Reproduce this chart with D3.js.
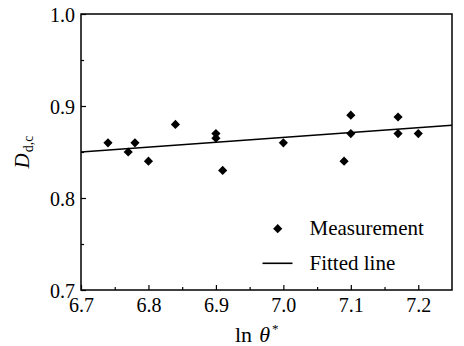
<!DOCTYPE html>
<html><head><meta charset="utf-8">
<script src="https://cdn.jsdelivr.net/npm/d3@7"></script>
<style>body{margin:0;background:#fff;} svg{display:block;}</style>
</head><body>
<svg id="c" width="464" height="346"></svg>
<script>
const measX = [6.74, 6.77, 6.78, 6.80, 6.84, 6.90, 6.90, 6.91, 7.00, 7.09, 7.10, 7.10, 7.17, 7.17, 7.20];
const measY = [0.860, 0.850, 0.860, 0.840, 0.880, 0.870, 0.865, 0.830, 0.860, 0.840, 0.890, 0.870, 0.888, 0.870, 0.870];
const fitX = [6.70, 7.25];
const fitY = [0.850, 0.879];
const xTicks = [6.7, 6.8, 6.9, 7.0, 7.1, 7.2];
const yTicks = [0.7, 0.8, 0.9, 1.0];
const legendLabels = ["Measurement", "Fitted line"];

const svg = d3.select("#c");
const L = 81, R = 452, T = 14, B = 290;
const x = d3.scaleLinear().domain([6.7, 7.25]).range([L, R]);
const y = d3.scaleLinear().domain([0.7, 1.0]).range([B, T]);
const font = "'Liberation Serif','Times New Roman',serif";

const xMinor = d3.range(6.75, 7.25, 0.1);
const yMinor = d3.range(0.75, 1.0, 0.1);

const gx = svg.append("g").attr("transform", `translate(0,${B})`)
  .call(d3.axisBottom(x).tickValues(xTicks).tickFormat(d3.format(".1f")).tickSizeInner(-5).tickSizeOuter(0).tickPadding(8));
gx.select(".domain").remove();
gx.selectAll("text").attr("font-family", font).attr("font-size", 20).attr("fill", "#000");
gx.selectAll("line").attr("stroke", "#000").attr("stroke-width", 1.2);
const gxm = svg.append("g").attr("transform", `translate(0,${B})`)
  .call(d3.axisBottom(x).tickValues(xMinor).tickFormat("").tickSizeInner(-3).tickSizeOuter(0));
gxm.select(".domain").remove();
gxm.selectAll("line").attr("stroke", "#000").attr("stroke-width", 1.2);

const gy = svg.append("g").attr("transform", `translate(${L},0)`)
  .call(d3.axisLeft(y).tickValues(yTicks).tickFormat(d3.format(".1f")).tickSizeInner(-5).tickSizeOuter(0).tickPadding(6));
gy.select(".domain").remove();
gy.selectAll("text").attr("font-family", font).attr("font-size", 20).attr("fill", "#000").attr("dy", "0.35em");
gy.selectAll("line").attr("stroke", "#000").attr("stroke-width", 1.2);
const gym = svg.append("g").attr("transform", `translate(${L},0)`)
  .call(d3.axisLeft(y).tickValues(yMinor).tickFormat("").tickSizeInner(-3).tickSizeOuter(0));
gym.select(".domain").remove();
gym.selectAll("line").attr("stroke", "#000").attr("stroke-width", 1.2);

svg.append("rect").attr("x", L).attr("y", T).attr("width", R - L).attr("height", B - T)
  .attr("fill", "none").attr("stroke", "#000").attr("stroke-width", 1.5);

const fit = fitX.map((d, i) => [d, fitY[i]]);
svg.append("path").datum(fit)
  .attr("d", d3.line().x(d => x(d[0])).y(d => y(d[1])))
  .attr("fill", "none").attr("stroke", "#000").attr("stroke-width", 1.6);

const diamond = d3.symbol().type(d3.symbolSquare).size(42);
const pts = measX.map((d, i) => [d, measY[i]]);
svg.append("g").selectAll("path").data(pts).join("path")
  .attr("d", diamond)
  .attr("transform", d => `translate(${x(d[0])},${y(d[1])}) rotate(45)`)
  .attr("fill", "#000");

svg.append("path").attr("d", diamond).attr("transform", "translate(277.7,228.7) rotate(45)").attr("fill", "#000");
svg.append("text").attr("x", 309.5).attr("y", 235).text(legendLabels[0])
  .attr("font-family", font).attr("font-size", 21);
svg.append("line").attr("x1", 262.5).attr("x2", 292.5).attr("y1", 263.3).attr("y2", 263.3)
  .attr("stroke", "#000").attr("stroke-width", 1.6);
svg.append("text").attr("x", 309.5).attr("y", 270).text(legendLabels[1])
  .attr("font-family", font).attr("font-size", 21);

const xt = svg.append("text").attr("x", 235).attr("y", 342).attr("text-anchor", "start")
  .attr("font-family", font).attr("font-size", 22);
xt.append("tspan").text("ln");
xt.append("tspan").attr("dx", 7).attr("font-style", "italic").text("θ");
xt.append("tspan").attr("font-size", 13).attr("dy", -9).attr("dx", 2).text("*");

const yt = svg.append("text").attr("transform", "translate(28.5,152) rotate(-90)").attr("text-anchor", "middle")
  .attr("font-family", font).attr("font-size", 21);
yt.append("tspan").attr("font-style", "italic").text("D");
yt.append("tspan").attr("font-size", 14).attr("dy", 4).attr("dx", 1).text("d,c");
</script>
</body></html>
